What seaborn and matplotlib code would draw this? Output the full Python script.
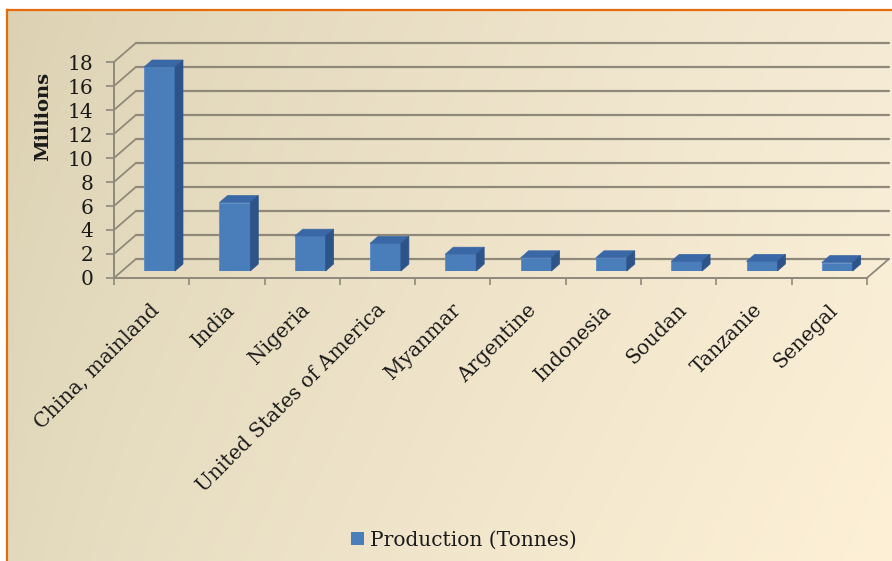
import numpy as np
import matplotlib
matplotlib.use("Agg")
import matplotlib.pyplot as plt
import matplotlib.transforms as mtransforms
from matplotlib.patches import Polygon, Rectangle
from matplotlib.colors import to_rgb
import seaborn as sns

# Groundnut production, top ten producers (millions of tonnes)
countries = ["China, mainland", "India", "Nigeria", "United States of America",
             "Myanmar", "Argentine", "Indonesia", "Soudan", "Tanzanie", "Senegal"]
production_millions = [17.0, 5.7, 2.9, 2.3, 1.4, 1.1, 1.1, 0.8, 0.8, 0.7]
y_ticks = [0, 2, 4, 6, 8, 10, 12, 14, 16, 18]
series_label = "Production (Tonnes)"
axis_title = "Millions"

sns.set_theme(style="white")
plt.rcParams["font.family"] = ["DejaVu Serif"]

W, H = 892, 561
fig = plt.figure(figsize=(W / 100, H / 100), dpi=100, facecolor="white")

# ---- background panel with soft gradient and orange frame ----
bg = fig.add_axes([7 / W, 0, 1 - 7 / W, 1 - 10 / H], zorder=-10)
tl, tr = np.array(to_rgb("#dcd1b2")), np.array(to_rgb("#f5ebd5"))
bl, br = np.array(to_rgb("#e2d9bd")), np.array(to_rgb("#fdf0d6"))
gx = np.linspace(0, 1, 300)[None, :, None] ** 0.8
gy = np.linspace(0, 1, 200)[:, None, None]
grad = (1 - gy) * ((1 - gx) * tl + gx * tr) + gy * ((1 - gx) * bl + gx * br)
bg.imshow(grad, extent=[0, 1, 0, 1], aspect="auto", origin="upper")
bg.set_xticks([]); bg.set_yticks([])
for side in ["right", "bottom"]:
    bg.spines[side].set_visible(False)
for side in ["left", "top"]:
    bg.spines[side].set_color("#e46c0a")
    bg.spines[side].set_linewidth(1.6)

# ---- plot planes: bars sit in a middle plane between front edge and back wall ----
plane_w, plane_h = 753, 216
bar_left, bar_bottom = 121.9, 271          # pixel position of bar plane (image coords)
front_shift = (-8, -7)                     # display offsets (x right, y up)
back_shift = (14, 12)
depth = np.array([8, 7])                   # bar extrusion in display pixels

ax = fig.add_axes([bar_left / W, (H - bar_bottom) / H, plane_w / W, plane_h / H])
ax.set_facecolor("none")
bar_color = "#4a7ebb"
sns.barplot(x=countries, y=production_millions, color=bar_color, saturation=1,
            width=0.41, ax=ax, edgecolor="#5b8cc8", linewidth=0.6, zorder=3)
ax.set_xlim(-0.5, len(countries) - 0.5)
ax.set_ylim(0, 18)
ax.set_xticks([]); ax.set_yticks([])
ax.set_xlabel(""); ax.set_ylabel("")
for s in ax.spines.values():
    s.set_visible(False)

ident = mtransforms.IdentityTransform()
grid_color = "#8e897b"

def disp(x, y):
    return ax.transData.transform((x, y))

x_lo, x_hi = -0.5, len(countries) - 0.5
for v in y_ticks:
    p0 = disp(x_lo, v)
    p1 = disp(x_hi, v)
    # back wall gridline
    ax.plot([p0[0] + back_shift[0], p1[0] + back_shift[0]],
            [p0[1] + back_shift[1], p1[1] + back_shift[1]],
            transform=ident, color=grid_color, lw=1.6, clip_on=False, zorder=1)
    # side wall diagonal
    ax.plot([p0[0] + front_shift[0], p0[0] + back_shift[0]],
            [p0[1] + front_shift[1], p0[1] + back_shift[1]],
            transform=ident, color=grid_color, lw=1.3, clip_on=False, zorder=1)

# right floor edge
pr = disp(x_hi, 0)
ax.plot([pr[0] + front_shift[0], pr[0] + back_shift[0]],
        [pr[1] + front_shift[1], pr[1] + back_shift[1]],
        transform=ident, color=grid_color, lw=1.3, clip_on=False, zorder=1)

# extrude each bar: top and side faces
top_color, side_color = "#3a67a5", "#2d5489"
for patch in ax.patches:
    x0, y0 = patch.get_x(), patch.get_y()
    x1, y1 = x0 + patch.get_width(), y0 + patch.get_height()
    tl_p, tr_p, br_p = disp(x0, y1), disp(x1, y1), disp(x1, y0)
    top = Polygon([tl_p, tr_p, tr_p + depth, tl_p + depth], closed=True,
                  transform=ident, facecolor=top_color, edgecolor=top_color,
                  lw=0.5, clip_on=False, zorder=4)
    side = Polygon([br_p, tr_p, tr_p + depth, br_p + depth], closed=True,
                   transform=ident, facecolor=side_color, edgecolor=side_color,
                   lw=0.5, clip_on=False, zorder=4)
    ax.add_patch(top)
    ax.add_patch(side)

# ---- front plane: axis lines, ticks and labels ----
fax = fig.add_axes([(bar_left + front_shift[0]) / W, (H - bar_bottom + front_shift[1]) / H,
                    plane_w / W, plane_h / H])
fax.set_facecolor("none")
fax.set_xlim(x_lo, x_hi)
fax.set_ylim(0, 18)
for side in ["top", "right"]:
    fax.spines[side].set_visible(False)
for side in ["left", "bottom"]:
    fax.spines[side].set_color(grid_color)
    fax.spines[side].set_linewidth(1.4)

fax.set_yticks(y_ticks)
fax.set_yticklabels([str(v) for v in y_ticks])
fax.tick_params(axis="y", direction="out", length=6, width=1.2, color=grid_color,
                pad=9, labelsize=14.5, labelcolor="#1a1a1a", left=True)

fax.set_xticks(np.arange(len(countries)))
fax.set_xticklabels(countries)
fax.set_xticks(np.arange(len(countries) + 1) - 0.5, minor=True)
fax.tick_params(axis="x", which="major", length=0, pad=21, labelsize=14.5,
                labelcolor="#1a1a1a")
fax.tick_params(axis="x", which="minor", direction="out", length=5, width=1.2,
                color=grid_color, bottom=True)
shift = mtransforms.ScaledTranslation(5 / 100, 0, fig.dpi_scale_trans)
for lab in fax.get_xticklabels():
    lab.set_rotation(45)
    lab.set_ha("right")
    lab.set_va("center")
    lab.set_rotation_mode("anchor")
    lab.set_transform(lab.get_transform() + shift)

fax.set_ylabel(axis_title, fontsize=14, fontweight="bold", color="#1a1a1a")
fax.yaxis.set_label_coords(-0.082, 0.75)

# ---- legend ----
handle = Rectangle((0, 0), 1, 1, facecolor=bar_color, edgecolor="none")
fig.legend([handle], [series_label], loc="center", bbox_to_anchor=(0.52, 0.037),
           frameon=False, handlelength=0.65, handleheight=0.65, handletextpad=0.3,
           prop={"size": 14.5}, labelcolor="#1a1a1a")

fig.savefig("out.png", dpi=100, facecolor="white")
